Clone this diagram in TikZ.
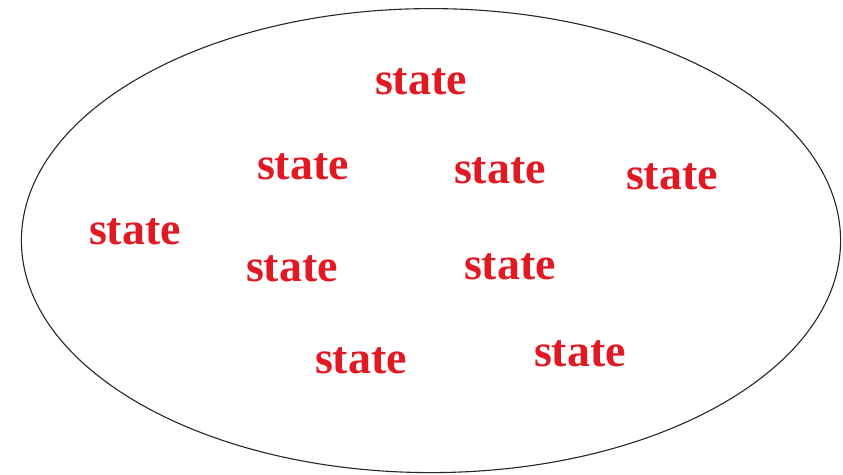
\documentclass[tikz,border=0pt]{standalone}
\usepackage{fontspec}
\setmainfont{Liberation Serif}
\definecolor{statered}{RGB}{225,25,35}
\begin{document}
\begin{tikzpicture}[x=1pt,y=-1pt,
  statelabel/.style={anchor=base,inner sep=0pt,text=statered,font=\fontsize{46}{50}\selectfont\bfseries}]
\useasboundingbox (0,0) rectangle (843,474);
\draw[line width=1.1pt,draw=black!85] (431,240.6) ellipse [x radius=409.6, y radius=232];
\node[statelabel] (s1) at (421,94) {state};
\node[statelabel] (s2) at (303,179) {state};
\node[statelabel] (s3) at (500,183) {state};
\node[statelabel] (s4) at (672,189) {state};
\node[statelabel] (s5) at (135,244) {state};
\node[statelabel] (s6) at (292,281) {state};
\node[statelabel] (s7) at (510,279) {state};
\node[statelabel] (s8) at (361,373) {state};
\node[statelabel] (s9) at (580,366) {state};
\end{tikzpicture}
\end{document}
